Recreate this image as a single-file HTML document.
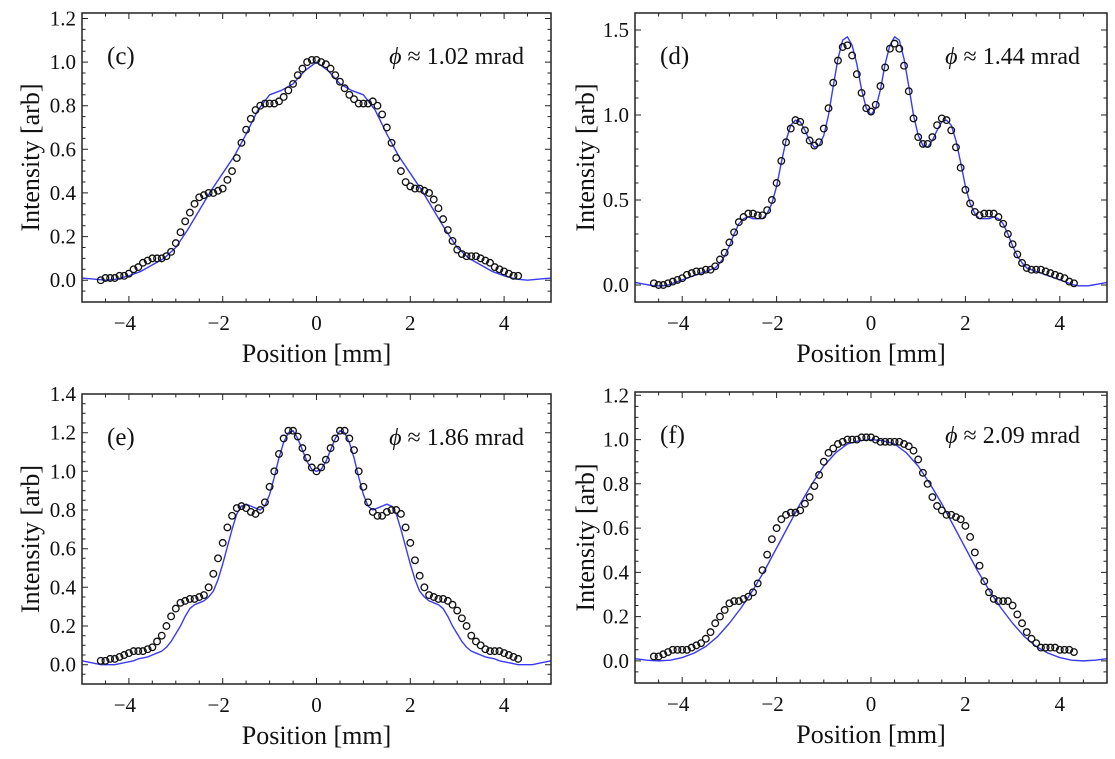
<!DOCTYPE html>
<html><head><meta charset="utf-8"><style>
html,body{margin:0;padding:0;background:#fff;}
svg text{font-family:"Liberation Serif",serif;fill:#111;}
</style></head><body>
<svg id="fig" width="1115" height="754" viewBox="0 0 1115 754" xmlns="http://www.w3.org/2000/svg"></svg>
<script>
// data arrays: measured points sampled at x = -4.6 + 0.1*i
const dataXStart = -4.6, dataXStep = 0.1;
const dataC = [0.00,0.01,0.01,0.01,0.02,0.02,0.03,0.05,0.06,0.08,0.09,0.10,0.10,0.10,0.11,0.13,0.17,0.22,0.27,0.31,0.35,0.38,0.39,0.40,0.40,0.41,0.42,0.46,0.50,0.56,0.63,0.69,0.74,0.78,0.80,0.81,0.81,0.81,0.82,0.84,0.87,0.90,0.94,0.97,1.00,1.01,1.01,1.00,0.99,0.97,0.94,0.91,0.88,0.85,0.83,0.81,0.81,0.81,0.82,0.80,0.76,0.70,0.63,0.56,0.50,0.45,0.43,0.42,0.42,0.41,0.40,0.37,0.33,0.28,0.23,0.18,0.14,0.12,0.11,0.11,0.11,0.10,0.09,0.08,0.06,0.05,0.04,0.03,0.02,0.02];
const dataD = [0.01,0.00,0.00,0.01,0.02,0.03,0.04,0.06,0.07,0.08,0.08,0.09,0.09,0.11,0.15,0.19,0.25,0.31,0.37,0.40,0.42,0.42,0.41,0.41,0.44,0.50,0.60,0.73,0.84,0.92,0.97,0.96,0.91,0.85,0.82,0.84,0.92,1.04,1.19,1.32,1.40,1.41,1.35,1.24,1.13,1.04,1.02,1.06,1.17,1.28,1.39,1.42,1.39,1.29,1.14,0.98,0.87,0.83,0.83,0.87,0.94,0.98,0.97,0.91,0.81,0.69,0.56,0.48,0.43,0.41,0.42,0.42,0.42,0.40,0.36,0.30,0.24,0.18,0.13,0.10,0.09,0.09,0.09,0.08,0.07,0.06,0.05,0.04,0.02,0.01];
const dataE = [0.02,0.02,0.03,0.03,0.04,0.05,0.06,0.07,0.07,0.07,0.08,0.09,0.12,0.15,0.20,0.25,0.29,0.32,0.33,0.34,0.34,0.35,0.36,0.40,0.47,0.55,0.63,0.71,0.77,0.81,0.82,0.81,0.79,0.78,0.80,0.84,0.92,1.00,1.09,1.17,1.21,1.21,1.18,1.12,1.07,1.02,1.00,1.02,1.06,1.12,1.17,1.21,1.21,1.17,1.11,1.00,0.92,0.84,0.79,0.77,0.77,0.79,0.80,0.80,0.78,0.71,0.63,0.54,0.46,0.40,0.36,0.35,0.34,0.34,0.33,0.31,0.28,0.24,0.20,0.15,0.12,0.10,0.08,0.07,0.07,0.07,0.06,0.05,0.04,0.03];
const dataF = [0.02,0.02,0.03,0.04,0.05,0.05,0.05,0.05,0.06,0.07,0.08,0.10,0.13,0.17,0.20,0.23,0.26,0.27,0.27,0.28,0.29,0.31,0.35,0.41,0.48,0.55,0.60,0.64,0.66,0.67,0.67,0.68,0.71,0.74,0.79,0.84,0.90,0.94,0.96,0.98,0.99,1.00,1.00,1.00,1.01,1.01,1.01,1.00,0.99,0.99,0.99,0.99,0.99,0.98,0.97,0.95,0.91,0.85,0.80,0.74,0.70,0.68,0.66,0.66,0.65,0.64,0.61,0.56,0.49,0.43,0.36,0.31,0.28,0.27,0.27,0.27,0.25,0.21,0.17,0.13,0.10,0.08,0.06,0.06,0.06,0.06,0.05,0.05,0.05,0.04];
// fit curves sampled from x = -5 with given step
const fitC = [0.01,0.005,0.0,0.005,0.02,0.04,0.07,0.10,0.15,0.23,0.32,0.41,0.49,0.57,0.67,0.78,0.85,0.87,0.90,0.96,1.00,0.96,0.90,0.87,0.85,0.78,0.67,0.57,0.49,0.41,0.32,0.23,0.15,0.10,0.07,0.04,0.02,0.005,0.0,0.005,0.01];
const fitCStep = 0.25;
const fitD = [0.015,0.01,0.005,0.0,-0.005,-0.005,-0.005,0.0,0.01,0.02,0.03,0.04,0.05,0.06,0.07,0.08,0.09,0.10,0.13,0.17,0.23,0.30,0.36,0.39,0.40,0.39,0.39,0.39,0.42,0.48,0.58,0.72,0.85,0.94,0.97,0.96,0.91,0.85,0.81,0.82,0.88,1.00,1.17,1.33,1.44,1.46,1.41,1.30,1.15,1.04,1.00,1.04,1.15,1.30,1.41,1.46,1.44,1.33,1.17,1.00,0.88,0.82,0.81,0.85,0.91,0.96,0.97,0.94,0.85,0.72,0.58,0.48,0.42,0.39,0.39,0.39,0.40,0.39,0.36,0.30,0.23,0.17,0.13,0.10,0.09,0.08,0.07,0.06,0.05,0.04,0.03,0.02,0.01,0.0,-0.005,-0.005,-0.005,0.0,0.005,0.01,0.015];
const fitDStep = 0.1;
const fitE = [0.02,0.015,0.01,0.005,0.0,0.0,0.0,0.0,0.005,0.01,0.015,0.02,0.03,0.035,0.04,0.05,0.06,0.07,0.09,0.12,0.16,0.20,0.25,0.29,0.31,0.32,0.33,0.35,0.38,0.44,0.52,0.61,0.70,0.78,0.82,0.83,0.82,0.81,0.80,0.82,0.88,0.97,1.07,1.15,1.20,1.21,1.17,1.11,1.05,1.01,1.00,1.01,1.05,1.11,1.17,1.21,1.20,1.15,1.07,0.97,0.88,0.82,0.80,0.81,0.82,0.83,0.82,0.78,0.70,0.61,0.52,0.44,0.38,0.35,0.33,0.32,0.31,0.29,0.25,0.20,0.16,0.12,0.09,0.07,0.06,0.05,0.04,0.035,0.03,0.02,0.015,0.01,0.005,0.0,0.0,0.0,0.0,0.005,0.01,0.015,0.02];
const fitEStep = 0.1;
const fitF = [0.01,0.003,0.0,0.003,0.015,0.035,0.065,0.11,0.17,0.24,0.32,0.41,0.51,0.61,0.71,0.80,0.88,0.94,0.98,0.995,1.0,0.995,0.98,0.94,0.88,0.80,0.71,0.61,0.51,0.41,0.32,0.24,0.17,0.11,0.065,0.035,0.015,0.003,0.0,0.003,0.01];
const fitFStep = 0.25;
const xTicks = [-4,-2,0,2,4];
const xTickLabels = ["\u22124","\u22122","0","2","4"];
const yTicksC = [0,0.2,0.4,0.6,0.8,1.0,1.2];
const yTickLabelsC = ["0.0","0.2","0.4","0.6","0.8","1.0","1.2"];
const yTicksD = [0,0.5,1.0,1.5];
const yTickLabelsD = ["0.0","0.5","1.0","1.5"];
const yTicksE = [0,0.2,0.4,0.6,0.8,1.0,1.2,1.4];
const yTickLabelsE = ["0.0","0.2","0.4","0.6","0.8","1.0","1.2","1.4"];
const yTicksF = [0,0.2,0.4,0.6,0.8,1.0,1.2];
const yTickLabelsF = ["0.0","0.2","0.4","0.6","0.8","1.0","1.2"];

const NS="http://www.w3.org/2000/svg";
const svg=document.getElementById('fig');
function mk(tag,parent){const e=document.createElementNS(NS,tag);parent.appendChild(e);return e;}

const panels=[
 {id:'c',L:82,R:551,T:13,B:302,ymin:-0.1,ymax:1.225,data:dataC,fit:fitC,fstep:fitCStep,yt:yTicksC,yl:yTickLabelsC,ymin2:0.05,label:'(c)',phi:'1.02',ytx:30},
 {id:'d',L:635,R:1107,T:13,B:302,ymin:-0.1,ymax:1.6,data:dataD,fit:fitD,fstep:fitDStep,yt:yTicksD,yl:yTickLabelsD,ymin2:0.1,label:'(d)',phi:'1.44',ytx:585},
 {id:'e',L:82,R:551,T:394,B:684,ymin:-0.1,ymax:1.4,data:dataE,fit:fitE,fstep:fitEStep,yt:yTicksE,yl:yTickLabelsE,ymin2:0.05,label:'(e)',phi:'1.86',ytx:30},
 {id:'f',L:635,R:1107,T:392,B:683,ymin:-0.1,ymax:1.215,data:dataF,fit:fitF,fstep:fitFStep,yt:yTicksF,yl:yTickLabelsF,ymin2:0.05,label:'(f)',phi:'2.09',ytx:585}
];

panels.forEach(p=>{
  const g=mk('g',svg);
  
  
  const sx=x=>p.L+(x+5)/10*(p.R-p.L);
  const sy=y=>p.B-(y-p.ymin)/(p.ymax-p.ymin)*(p.B-p.T);
  const tg=mk('g',g);
  
  
  let d='';
  for(let v=Math.ceil(p.ymin/p.ymin2)*p.ymin2; v<=p.ymax+1e-9; v+=p.ymin2){
    const y=sy(v).toFixed(1);
    const major=p.yt.some(t=>Math.abs(t-v)<1e-6);
    const len=major?6:3.5;
    d+=`M${p.L},${y}h${len}M${p.R},${y}h${-len}`;
  }
  for(let v=-5; v<=5+1e-9; v+=0.5){
    const x=sx(v).toFixed(1);
    const major=xTicks.some(t=>Math.abs(t-v)<1e-6);
    const len=major?6:3.5;
    d+=`M${x},${p.B}v${-len}M${x},${p.T}v${len}`;
  }
  const tp=mk('path',tg);tp.setAttribute('d',d);tp.setAttribute('stroke','#222');tp.setAttribute('stroke-width','1');tp.setAttribute('fill','none');
  p.yt.forEach((v,i)=>{
    const t=mk('text',g);
    
    
    t.setAttribute('x',p.L-6);t.setAttribute('y',sy(v)+7);t.setAttribute('text-anchor','end');t.setAttribute('font-size','21');
    t.textContent=p.yl[i];
  });
  xTicks.forEach((v,i)=>{
    const t=mk('text',g);
    
    
    t.setAttribute('x',sx(v)-(v<0?4:0));t.setAttribute('y',p.B+28);t.setAttribute('text-anchor','middle');t.setAttribute('font-size','21');
    t.textContent=xTickLabels[i];
  });
  const xt=mk('text',g);
  
  
  xt.setAttribute('x',(p.L+p.R)/2);xt.setAttribute('y',p.B+60);xt.setAttribute('text-anchor','middle');xt.setAttribute('font-size','26');
  xt.textContent='Position [mm]';
  const yt=mk('text',g);
  
  
  const cy=(p.T+p.B)/2;
  yt.setAttribute('transform',`translate(${p.ytx},${cy}) rotate(-90)`);yt.setAttribute('y','9');yt.setAttribute('text-anchor','middle');yt.setAttribute('font-size','26');
  yt.textContent='Intensity [arb]';
  const cp=mk('clipPath',g);cp.setAttribute('id','clip'+p.id);
  const cr=mk('rect',cp);cr.setAttribute('x',p.L);cr.setAttribute('y',p.T);cr.setAttribute('width',p.R-p.L);cr.setAttribute('height',p.B-p.T);
  let fd='';
  p.fit.forEach((v,i)=>{fd+=(i?'L':'M')+sx(-5+i*p.fstep).toFixed(2)+','+sy(v).toFixed(2);});
  const fl=mk('path',g);
  
  
  fl.setAttribute('d',fd);fl.setAttribute('stroke','#3a3af2');fl.setAttribute('stroke-width','1.4');fl.setAttribute('fill','none');fl.setAttribute('stroke-linejoin','round');fl.setAttribute('clip-path',`url(#clip${p.id})`);
  const pg=mk('g',g);
  
  
  p.data.forEach((v,i)=>{
    const c=mk('circle',pg);
    
    
    c.setAttribute('cx',sx(dataXStart+i*dataXStep).toFixed(2));c.setAttribute('cy',sy(v).toFixed(2));c.setAttribute('r','3.3');
    c.setAttribute('fill','none');c.setAttribute('stroke','#111');c.setAttribute('stroke-width','1.3');
  });
  const fr=mk('rect',g);
  
  
  fr.setAttribute('x',p.L);fr.setAttribute('y',p.T);fr.setAttribute('width',p.R-p.L);fr.setAttribute('height',p.B-p.T);fr.setAttribute('fill','none');fr.setAttribute('stroke','#222');fr.setAttribute('stroke-width','1.5');
  const pl=mk('text',g);
  
  
  pl.setAttribute('x',p.L+25);pl.setAttribute('y',p.T+51);pl.setAttribute('font-size','25');
  pl.textContent=p.label;
  const ph=mk('text',g);
  
  
  ph.setAttribute('x',p.R-27);ph.setAttribute('y',p.T+51);ph.setAttribute('text-anchor','end');ph.setAttribute('font-size','24');
  const s1=mk('tspan',ph);s1.setAttribute('font-style','italic');s1.textContent='\u03D5';
  const s2=mk('tspan',ph);s2.textContent=' \u2248 '+p.phi+' mrad';
});
</script>
</body></html>
